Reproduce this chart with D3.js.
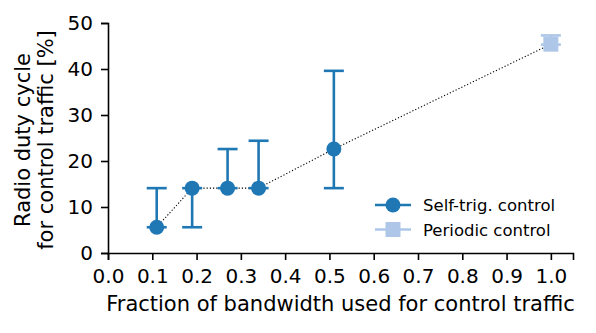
<!DOCTYPE html>
<html>
<head>
<meta charset="utf-8">
<script src="https://cdn.jsdelivr.net/npm/d3@7"></script>
<style>
  body { margin: 0; background: #fff; }
  text { font-family: "DejaVu Sans", sans-serif; fill: #000; }
</style>
</head>
<body>
<script>
// data
var selfX   = [0.11, 0.19, 0.27, 0.34, 0.51];
var selfY   = [5.6, 14.1, 14.1, 14.1, 22.6];
var selfLo  = [5.6, 5.6, 14.1, 14.1, 14.1];
var selfHi  = [14.1, 14.1, 22.6, 24.4, 39.6];
var perX    = [1.0];
var perY    = [45.4];
var perLo   = [45.3];
var perHi   = [47.3];
var xTicks  = [0.0, 0.1, 0.2, 0.3, 0.4, 0.5, 0.6, 0.7, 0.8, 0.9, 1.0];
var yTicks  = [0, 10, 20, 30, 40, 50];
var legendLabels = ['Self-trig. control', 'Periodic control'];

var W = 596, H = 333;
var m = {left: 108, right: 23, top: 23, bottom: 80};
var blue = '#1f77b4', light = '#aec7e8';

var svg = d3.select('body').append('svg').attr('width', W).attr('height', H);

var x = d3.scaleLinear().domain([0, 1.05]).range([m.left, W - m.right]);
var y = d3.scaleLinear().domain([0, 50]).range([H - m.bottom, m.top]);

// axes
var xAxis = svg.append('g').attr('transform', 'translate(0,' + (H - m.bottom) + ')')
  .call(d3.axisBottom(x).tickValues(xTicks).tickFormat(d3.format('.1f')).tickSizeOuter(0).tickSize(7).tickPadding(9));
var yAxis = svg.append('g').attr('transform', 'translate(' + m.left + ',0)')
  .call(d3.axisLeft(y).tickValues(yTicks).tickSizeOuter(0).tickSize(7).tickPadding(8));
[xAxis, yAxis].forEach(function(a){
  a.selectAll('path, line').attr('stroke', '#000').attr('stroke-width', 1.6);
  a.selectAll('text').style('font-size', '20px').style('font-family', '"DejaVu Sans", sans-serif');
});

svg.append('text').attr('x', (m.left + W - m.right) / 2).attr('y', 311)
  .attr('text-anchor', 'middle').style('font-size', '21px')
  .text('Fraction of bandwidth used for control traffic');

var yl = svg.append('text').attr('transform', 'translate(30,140) rotate(-90)')
  .attr('text-anchor', 'middle').style('font-size', '21px');
yl.append('tspan').attr('x', 0).attr('dy', 0).text('Radio duty cycle');
yl.append('tspan').attr('x', 0).attr('dy', 23).text('for control traffic [%]');

// dotted connecting line
var allX = selfX.concat(perX), allY = selfY.concat(perY);
svg.append('path')
  .datum(d3.range(allX.length))
  .attr('fill', 'none').attr('stroke', '#000').attr('stroke-width', 1.1)
  .attr('stroke-dasharray', '1.2,2')
  .attr('d', d3.line().x(function(i){ return x(allX[i]); }).y(function(i){ return y(allY[i]); }));

function errorBars(xs, lo, hi, col){
  var g = svg.append('g').attr('stroke', col).attr('stroke-width', 2.6);
  xs.forEach(function(v, i){
    g.append('line').attr('x1', x(v)).attr('x2', x(v)).attr('y1', y(lo[i])).attr('y2', y(hi[i]));
    [lo[i], hi[i]].forEach(function(e){
      g.append('line').attr('x1', x(v) - 10).attr('x2', x(v) + 10).attr('y1', y(e)).attr('y2', y(e));
    });
  });
}
errorBars(selfX, selfLo, selfHi, blue);
errorBars(perX, perLo, perHi, light);

svg.selectAll('.pt').data(selfX).enter().append('circle')
  .attr('cx', function(d){ return x(d); })
  .attr('cy', function(d, i){ return y(selfY[i]); })
  .attr('r', 7.5).attr('fill', blue);

svg.selectAll('.sq').data(perX).enter().append('rect')
  .attr('x', function(d){ return x(d) - 7.5; })
  .attr('y', function(d, i){ return y(perY[i]) - 7.5; })
  .attr('width', 15).attr('height', 15).attr('fill', light);

// legend
var leg = svg.append('g');
legendLabels.forEach(function(lbl, i){
  var cy = 205 + i * 24.5, col = i === 0 ? blue : light;
  leg.append('line').attr('x1', 375).attr('x2', 411).attr('y1', cy).attr('y2', cy)
    .attr('stroke', col).attr('stroke-width', 2.6);
  if (i === 0) leg.append('circle').attr('cx', 393).attr('cy', cy).attr('r', 7.5).attr('fill', col);
  else leg.append('rect').attr('x', 385.5).attr('y', cy - 7.5).attr('width', 15).attr('height', 15).attr('fill', col);
  leg.append('text').attr('x', 423).attr('y', cy + 6).style('font-size', '16.5px').text(lbl);
});
</script>
</body>
</html>
